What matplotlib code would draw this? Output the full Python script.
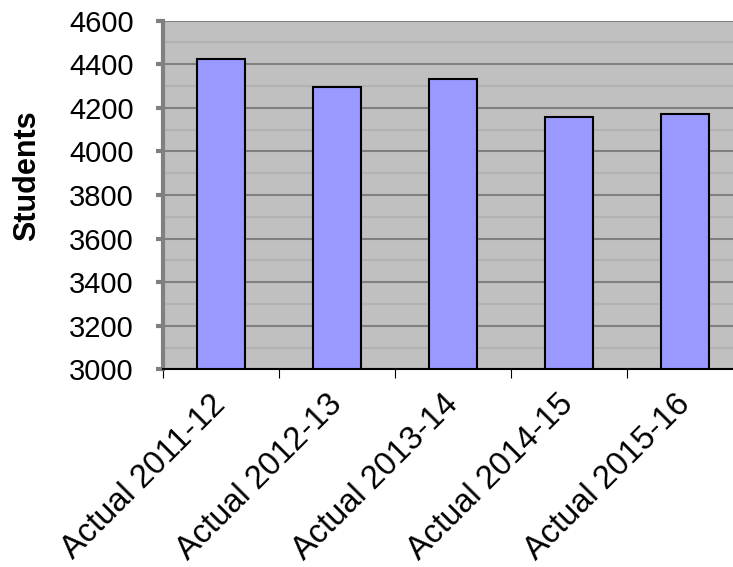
import numpy as np
import matplotlib
matplotlib.use("Agg")
import matplotlib.pyplot as plt
from matplotlib.ticker import MultipleLocator, FixedLocator

plt.rcParams["font.family"] = ["Liberation Sans", "DejaVu Sans"]

years = ["Actual 2011-12", "Actual 2012-13", "Actual 2013-14",
         "Actual 2014-15", "Actual 2015-16"]
students = [4424, 4294, 4333, 4158, 4170]
y_ticks = [3000, 3200, 3400, 3600, 3800, 4000, 4200, 4400, 4600]

fig = plt.figure(figsize=(7.33, 5.67), dpi=100)
ax = fig.add_axes([0.2224, 0.3487, 0.7913, 0.6148])
ax.set_facecolor("#c0c0c0")

x = np.arange(len(years))
ax.bar(x, students, width=0.41, color="#9999ff", edgecolor="black",
       linewidth=1.5, zorder=3)

ax.set_ylim(3000, 4600)
ax.set_xlim(-0.5, len(years) - 0.5)

# gridlines: darker every 200, lighter in between
ax.yaxis.set_major_locator(FixedLocator(y_ticks))
ax.yaxis.set_minor_locator(MultipleLocator(100))
ax.grid(axis="y", which="major", color="#808080", linewidth=1.5, zorder=1)
ax.grid(axis="y", which="minor", color="#b2b2b2", linewidth=1.5, zorder=1)
ax.tick_params(axis="y", which="minor", length=0)
ax.tick_params(axis="y", which="major", length=5, width=3, color="#808080",
               pad=16, labelsize=21)

# category labels at centres, tick marks at boundaries
ax.set_xticks(x)
ax.set_xticklabels(years, rotation=45, ha="right", va="center",
                   rotation_mode="anchor", fontsize=23.5)
ax.set_xticks(np.arange(len(years) + 1) - 0.5, minor=True)
ax.tick_params(axis="x", which="major", length=0, pad=22)
ax.tick_params(axis="x", which="minor", length=6.5, width=0.8, color="black")

ax.spines["top"].set_visible(False)
ax.spines["right"].set_visible(False)
ax.spines["left"].set_color("#808080")
ax.spines["left"].set_linewidth(3)
ax.spines["bottom"].set_color("black")
ax.spines["bottom"].set_linewidth(1.5)
ax.spines["bottom"].set_zorder(4)

fig.text(27 / 733, 1 - 176 / 567, "Students", rotation=90, ha="center",
         va="center", fontsize=22, fontweight="bold")

fig.savefig("out.png", dpi=100)
